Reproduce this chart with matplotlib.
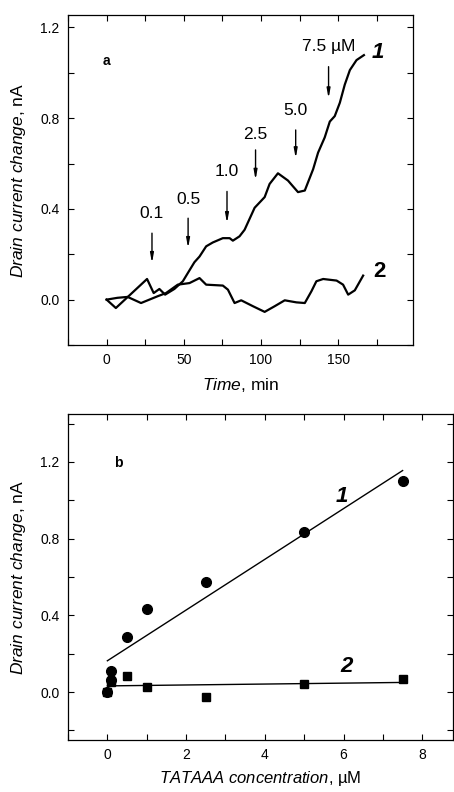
import matplotlib
matplotlib.use("Agg")
import matplotlib.pyplot as plt
import numpy as np
from matplotlib.ticker import MultipleLocator

plt.rcParams["font.family"] = ["Liberation Sans Narrow", "Liberation Sans", "DejaVu Sans"]
plt.rcParams["mathtext.fontset"] = "custom"
plt.rcParams["mathtext.it"] = "Liberation Sans:italic"
plt.rcParams["mathtext.rm"] = "Liberation Sans"

# panel a: drain current vs time
t1 = [0, 6, 26.2, 30.5, 34.2, 37.9, 43.9, 49.4, 52.6, 56.9, 60.2, 64.5, 68.8, 75.3,
      79.7, 81.8, 86.1, 89.4, 95.9, 102.4, 105.6, 111.0, 117.5, 120.8, 124.0, 128.4,
      133.8, 137.0, 141.3, 144.6, 147.8, 151.1, 154.3, 157.6, 161.9, 166.7]
i1 = [0, -0.037, 0.091, 0.029, 0.047, 0.022, 0.047, 0.081, 0.117, 0.165, 0.19, 0.235,
      0.252, 0.271, 0.271, 0.26, 0.279, 0.308, 0.405, 0.452, 0.51, 0.557, 0.525, 0.499,
      0.474, 0.481, 0.575, 0.648, 0.715, 0.785, 0.809, 0.868, 0.948, 1.012, 1.056, 1.078]
t2 = [0, 7, 13.6, 22.3, 33.1, 38.5, 46.1, 53.7, 60.2, 64.5, 75.3, 78.6, 82.9, 87.2,
      94.8, 102.4, 108.9, 115.4, 122.9, 128.4, 132.7, 135.9, 140.3, 149.0, 153.2,
      156.5, 160.8, 166.2]
i2 = [0, 0.008, 0.012, -0.015, 0.015, 0.029, 0.066, 0.073, 0.095, 0.066, 0.062, 0.044,
      -0.015, -0.003, -0.029, -0.054, -0.029, -0.003, -0.012, -0.015, 0.037, 0.081,
      0.091, 0.084, 0.066, 0.022, 0.041, 0.106]

# concentration additions (label, time, text height, arrow top, arrow tip)
add_labels = ["0.1", "0.5", "1.0", "2.5", "5.0", "7.5 \u00b5M"]
add_t = [29.4, 52.8, 78.0, 96.5, 122.5, 143.8]
add_text_y = [0.38, 0.44, 0.565, 0.726, 0.836, 1.115]
add_top = [0.293, 0.359, 0.477, 0.66, 0.748, 1.027]
add_tip = [0.161, 0.227, 0.337, 0.528, 0.623, 0.887]

# panel b: response vs TATAAA concentration
conc1 = [0, 0.1, 0.1, 0.5, 1.0, 2.5, 5.0, 7.5]
resp1 = [0, 0.108, 0.064, 0.287, 0.433, 0.574, 0.835, 1.099]
conc2 = [0, 0.1, 0.5, 1.0, 2.5, 5.0, 7.5]
resp2 = [0, 0.05, 0.082, 0.024, -0.028, 0.042, 0.068]
fit_x = [0.0, 7.5]
fit1_y = [0.163, 1.155]
fit2_y = [0.032, 0.05]

fig = plt.figure(figsize=(4.54, 7.92), dpi=100)
ax1 = fig.add_axes([0.1498, 0.5644, 0.7599, 0.4167])
ax2 = fig.add_axes([0.1498, 0.0657, 0.8480, 0.4116])

for ax in (ax1, ax2):
    ax.tick_params(which="both", direction="in", top=True, right=True,
                   length=4, width=0.8, labelsize=10, pad=6)
    for s in ax.spines.values():
        s.set_linewidth(0.9)

ax1.plot(t1, i1, color="black", lw=1.6)
ax1.plot(t2, i2, color="black", lw=1.6)
for lab, tx, ty, top, tip in zip(add_labels, add_t, add_text_y, add_top, add_tip):
    ax1.annotate("", xy=(tx, tip), xytext=(tx, top),
                 arrowprops=dict(arrowstyle="-|>,head_length=0.55,head_width=0.1",
                                 color="black", lw=1.0, shrinkA=0, shrinkB=0))
    ax1.text(tx, ty, lab, ha="center", va="center", fontsize=12.5)
ax1.text(176, 1.09, "1", fontsize=16, fontweight="bold", style="italic",
         ha="center", va="center")
ax1.text(177, 0.125, "2", fontsize=16, fontweight="bold", ha="center", va="center")
ax1.text(0, 1.05, "a", fontsize=10, fontweight="bold", ha="center", va="center")
ax1.set_xlim(-25, 198.5)
ax1.set_ylim(-0.2, 1.255)
ax1.xaxis.set_major_locator(MultipleLocator(50))
ax1.xaxis.set_minor_locator(MultipleLocator(25))
ax1.yaxis.set_major_locator(MultipleLocator(0.4))
ax1.yaxis.set_minor_locator(MultipleLocator(0.2))
ax1.yaxis.set_major_formatter(lambda v, p: f"{v:.1f}")
ax1.set_xlabel(r"$\mathit{Time}$, min", fontsize=12.5, labelpad=6)
ax1.set_ylabel(r"$\mathit{Drain\ current\ change}$, nA", fontsize=12.5, labelpad=9)

ax2.plot(fit_x, fit1_y, color="black", lw=1.0)
ax2.plot(fit_x, fit2_y, color="black", lw=1.0)
ax2.plot(conc1, resp1, "o", color="black", ms=7)
ax2.plot(conc2, resp2, "s", color="black", ms=6)
ax2.text(5.95, 1.02, "1", fontsize=16, fontweight="bold", style="italic",
         ha="center", va="center")
ax2.text(6.07, 0.134, "2", fontsize=16, fontweight="bold", style="italic",
         ha="center", va="center")
ax2.text(0.27, 1.196, "b", fontsize=10, fontweight="bold", ha="center", va="center")
ax2.set_xlim(-1, 8.78)
ax2.set_ylim(-0.25, 1.45)
ax2.xaxis.set_major_locator(MultipleLocator(2))
ax2.xaxis.set_minor_locator(MultipleLocator(1))
ax2.yaxis.set_major_locator(MultipleLocator(0.4))
ax2.yaxis.set_minor_locator(MultipleLocator(0.2))
ax2.yaxis.set_major_formatter(lambda v, p: f"{v:.1f}")
ax2.set_xlabel("$\\mathit{TATAAA\\ concentration}$, \u00b5M", fontsize=12, labelpad=5)
ax2.set_ylabel(r"$\mathit{Drain\ current\ change}$, nA", fontsize=12.5, labelpad=9)

fig.savefig("out.png", dpi=100)
